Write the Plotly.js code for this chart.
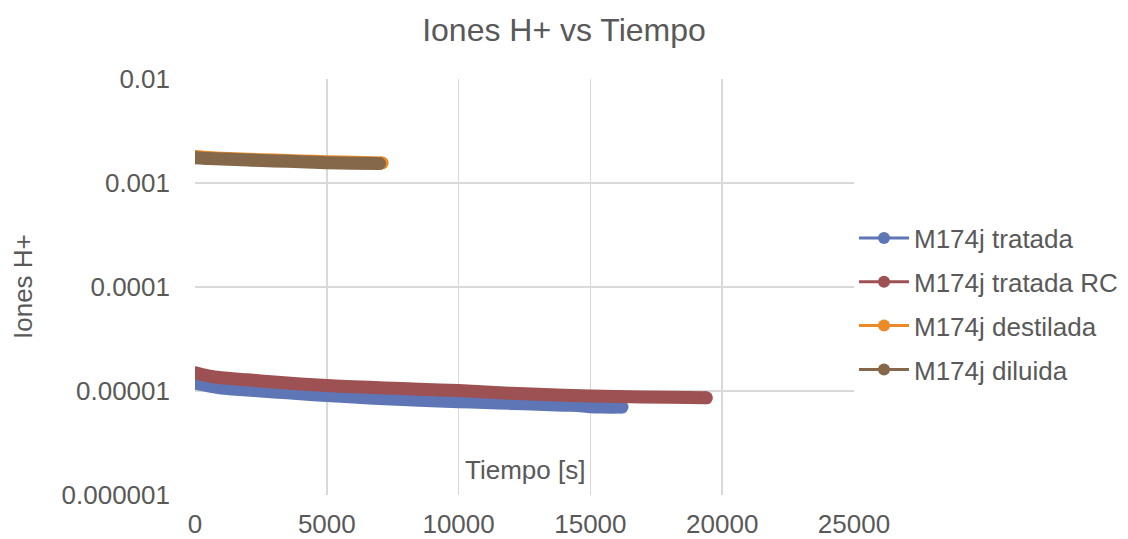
<!DOCTYPE html>
<html>
<head>
<meta charset="utf-8">
<script src="https://cdn.plot.ly/plotly-3.0.1.min.js"></script>
<style>html,body{margin:0;padding:0;background:#fff;}#chart{width:1128px;height:539px;}</style>
</head>
<body>
<div id="chart"></div>
<script>
const seriesNames = ["M174j tratada", "M174j tratada RC", "M174j destilada", "M174j diluida"];
const seriesColors = ["#5E76B6", "#9D5152", "#EC8A28", "#85684A"];

const timeTratada = [0, 500, 1000, 2000, 3000, 4000, 5000, 6000, 7200, 8500, 10000, 11000, 12000, 13000, 14000, 14500, 15000, 15500, 16200];
const hTratada = [1.19e-5, 1.12e-5, 1.07e-5, 1.02e-5, 9.8e-6, 9.4e-6, 9.05e-6, 8.75e-6, 8.4e-6, 8.15e-6, 7.9e-6, 7.75e-6, 7.6e-6, 7.45e-6, 7.3e-6, 7.25e-6, 7.05e-6, 7.0e-6, 7.0e-6];

const timeTratadaRC = [0, 500, 1000, 2000, 3000, 4000, 5000, 6000, 7200, 8500, 10000, 12000, 14000, 16000, 18000, 19400];
const hTratadaRC = [1.5e-5, 1.4e-5, 1.34e-5, 1.28e-5, 1.22e-5, 1.17e-5, 1.13e-5, 1.1e-5, 1.07e-5, 1.04e-5, 1.01e-5, 9.5e-6, 9.1e-6, 8.85e-6, 8.7e-6, 8.6e-6];

const timeDestilada = [0, 500, 1000, 2000, 3000, 4000, 5000, 6000, 7100];
const hDestilada = [1.8e-3, 1.76e-3, 1.73e-3, 1.69e-3, 1.66e-3, 1.63e-3, 1.6e-3, 1.58e-3, 1.56e-3];

const timeDiluida = [0, 500, 1000, 2000, 3000, 4000, 5000, 6000, 7000];
const hDiluida = [1.75e-3, 1.72e-3, 1.7e-3, 1.66e-3, 1.63e-3, 1.6e-3, 1.57e-3, 1.55e-3, 1.54e-3];

const yTickVals = [0.000001, 0.00001, 0.0001, 0.001, 0.01];
const yTickText = ["0.000001", "0.00001", "0.0001", "0.001", "0.01"];
const xTickVals = [0, 5000, 10000, 15000, 20000, 25000];

const xs = [timeTratada, timeTratadaRC, timeDestilada, timeDiluida];
const ys = [hTratada, hTratadaRC, hDestilada, hDiluida];

const txt = "#595959";
const font = "Liberation Sans, Arial, sans-serif";
const fs = 26;

const traces = [];
for (let i = 0; i < 4; i++) {
  traces.push({
    type: "scatter", mode: "lines", x: xs[i], y: ys[i],
    line: {color: seriesColors[i], width: 13, shape: "spline", smoothing: 0.8},
    showlegend: false, hoverinfo: "skip"
  });
  const n = xs[i].length;
  traces.push({
    type: "scatter", mode: "markers", x: [xs[i][0], xs[i][n - 1]], y: [ys[i][0], ys[i][n - 1]],
    marker: {color: seriesColors[i], size: 13},
    showlegend: false, hoverinfo: "skip"
  });
}
for (let i = 0; i < 4; i++) {
  traces.push({
    type: "scatter", mode: "lines+markers", x: [null], y: [null],
    name: seriesNames[i], legendgroup: "g" + i,
    line: {color: seriesColors[i], width: 3},
    marker: {color: seriesColors[i], size: 12},
    showlegend: true
  });
}

const layout = {
  width: 1128, height: 539,
  margin: {l: 195, r: 274, t: 79, b: 44, autoexpand: false},
  paper_bgcolor: "#fff", plot_bgcolor: "#fff",
  font: {family: font, color: txt, size: fs},
  title: {text: "Iones H+ vs Tiempo", font: {size: 32, color: txt, family: font}, x: 0.5, xref: "container", xanchor: "center", y: 1 - 30/539, yanchor: "middle"},
  xaxis: {
    range: [0, 25000], tickvals: xTickVals, ticktext: xTickVals.map(String),
    showgrid: true, gridcolor: "#d9d9d9", gridwidth: 1.5, zeroline: false, showline: false,
    ticks: "", ticklabelstandoff: 11, tickfont: {size: fs, color: txt}
  },
  yaxis: {
    type: "log", range: [-6, -2], tickvals: yTickVals, ticktext: yTickText,
    showgrid: true, gridcolor: "#d9d9d9", gridwidth: 1.5, zeroline: false, showline: false,
    ticks: "", ticklabelstandoff: 24, tickfont: {size: fs, color: txt}
  },
  legend: {
    x: 1.0, xanchor: "left", y: 0.674, yanchor: "top",
    font: {size: fs, color: txt, family: font},
    tracegroupgap: 7, itemwidth: 50, bgcolor: "rgba(0,0,0,0)"
  },
  annotations: [
    {text: "Tiempo [s]", xref: "paper", yref: "paper", x: 0.5, y: 25/416, xanchor: "center", yanchor: "middle", showarrow: false, font: {size: fs, color: txt}},
    {text: "Iones H+", xref: "paper", yref: "paper", x: -172/659, y: 0.5, xanchor: "center", yanchor: "middle", textangle: -90, showarrow: false, font: {size: fs, color: txt}}
  ]
};

Plotly.newPlot("chart", traces, layout, {displayModeBar: false, staticPlot: true});
</script>
</body>
</html>
